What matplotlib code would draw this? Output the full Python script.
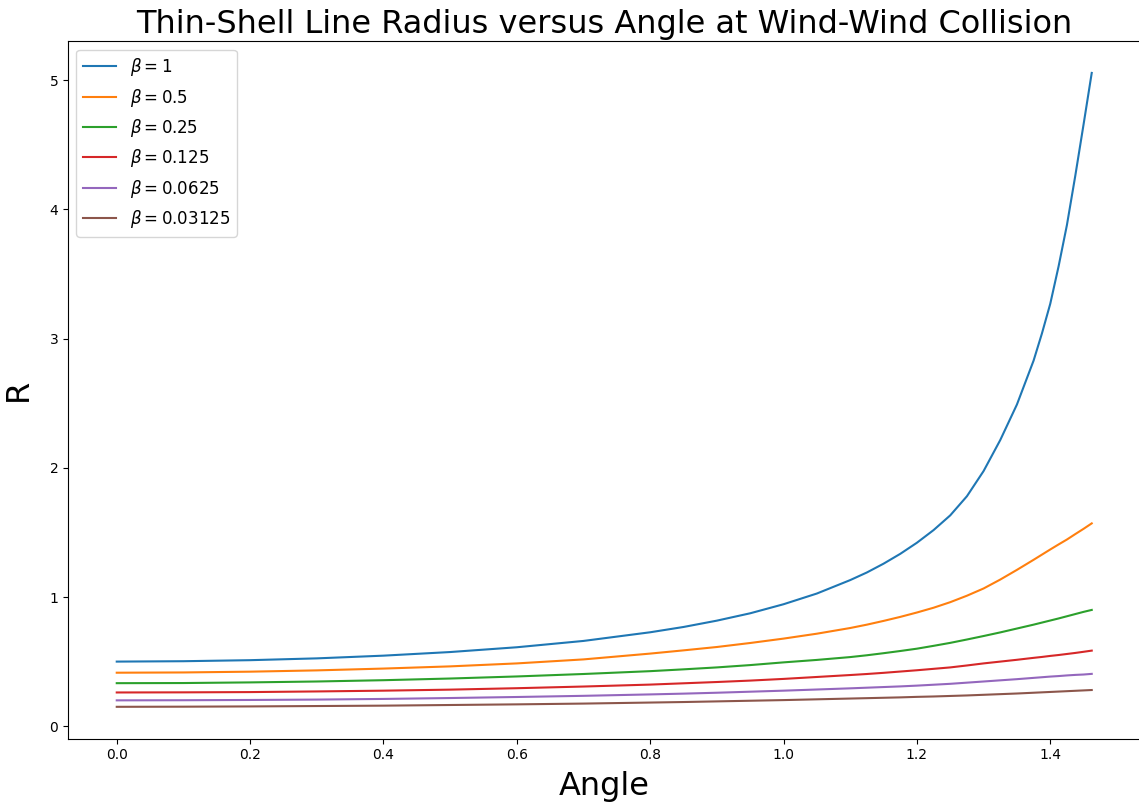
import matplotlib
matplotlib.use("Agg")
import matplotlib.pyplot as plt

# angle samples
angle = [0.0, 0.1, 0.2, 0.3, 0.4, 0.5, 0.6, 0.7, 0.8, 0.85, 0.9, 0.95, 1.0, 1.05,
         1.1, 1.125, 1.15, 1.175, 1.2, 1.225, 1.25, 1.275, 1.3, 1.325, 1.35,
         1.375, 1.3875, 1.4, 1.4125, 1.425, 1.4375, 1.45, 1.4622]

betas = ["1", "0.5", "0.25", "0.125", "0.0625", "0.03125"]

r_beta_1 = [0.500, 0.503, 0.511, 0.525, 0.546, 0.574, 0.611, 0.660, 0.727, 0.768,
            0.817, 0.874, 0.944, 1.027, 1.131, 1.190, 1.258, 1.334, 1.420, 1.518,
            1.632, 1.780, 1.975, 2.215, 2.490, 2.830, 3.040, 3.270, 3.560, 3.880,
            4.260, 4.660, 5.057]
r_beta_05 = [0.414, 0.416, 0.422, 0.432, 0.446, 0.463, 0.486, 0.517, 0.562, 0.587,
             0.613, 0.644, 0.678, 0.716, 0.760, 0.786, 0.815, 0.846, 0.880, 0.917,
             0.960, 1.010, 1.066, 1.135, 1.210, 1.288, 1.328, 1.368, 1.407, 1.445,
             1.487, 1.528, 1.570]
r_beta_025 = [0.333, 0.334, 0.339, 0.346, 0.356, 0.369, 0.385, 0.404, 0.426, 0.440,
              0.455, 0.473, 0.494, 0.513, 0.535, 0.549, 0.565, 0.582, 0.600, 0.622,
              0.645, 0.671, 0.698, 0.726, 0.756, 0.786, 0.802, 0.818, 0.834, 0.851,
              0.868, 0.885, 0.900]
r_beta_0125 = [0.261, 0.262, 0.264, 0.269, 0.275, 0.283, 0.294, 0.307, 0.322, 0.332,
               0.342, 0.353, 0.366, 0.381, 0.396, 0.404, 0.413, 0.423, 0.433, 0.444,
               0.455, 0.470, 0.486, 0.500, 0.514, 0.529, 0.536, 0.544, 0.551, 0.559,
               0.567, 0.576, 0.585]
r_beta_00625 = [0.200, 0.201, 0.203, 0.206, 0.211, 0.218, 0.226, 0.235, 0.246, 0.252,
                0.259, 0.267, 0.275, 0.284, 0.293, 0.298, 0.303, 0.308, 0.314, 0.321,
                0.328, 0.337, 0.346, 0.355, 0.364, 0.374, 0.379, 0.384, 0.388, 0.393,
                0.397, 0.400, 0.405]
r_beta_003125 = [0.150, 0.151, 0.153, 0.156, 0.159, 0.164, 0.169, 0.175, 0.183, 0.187,
                 0.192, 0.197, 0.202, 0.208, 0.214, 0.217, 0.220, 0.223, 0.227, 0.230,
                 0.234, 0.238, 0.243, 0.248, 0.253, 0.259, 0.262, 0.265, 0.268, 0.271,
                 0.274, 0.277, 0.280]

radii = [r_beta_1, r_beta_05, r_beta_025, r_beta_0125, r_beta_00625, r_beta_003125]

fig = plt.figure(figsize=(11.39, 8.05), dpi=100)
# right edge of the axes is cut off by the picture edge in the reference
ax = fig.add_axes([0.0597, 0.0826, 0.9416, 0.8662])

for b, r in zip(betas, radii):
    ax.plot(angle, r, label=r"$\beta = %s$" % b)

ax.set_xlim(-0.0731, 1.5353)
ax.spines["right"].set_visible(False)
ax.set_title("Thin-Shell Line Radius versus Angle at Wind-Wind Collision", fontsize=23)
ax.set_xlabel("Angle", fontsize=23, labelpad=6)
ax.set_ylabel("R", fontsize=23, labelpad=11)
ax.legend(loc="upper left", fontsize=12)

fig.savefig("out.png", dpi=100)
plt.close(fig)
